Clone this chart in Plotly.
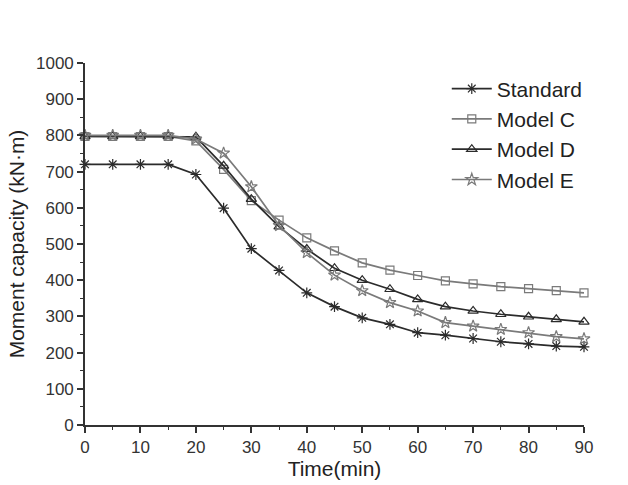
import plotly.graph_objects as go

time = [0, 5, 10, 15, 20, 25, 30, 35, 40, 45, 50, 55, 60, 65, 70, 75, 80, 85, 90]
standard = [720, 720, 720, 720, 692, 599, 487, 427, 365, 327, 296, 278, 255, 248, 239, 230, 224, 218, 216]
model_c = [797, 797, 797, 797, 785, 706, 620, 566, 517, 481, 448, 428, 413, 398, 390, 382, 377, 371, 365]
model_d = [797, 797, 797, 797, 796, 716, 624, 548, 486, 433, 400, 375, 347, 327, 315, 306, 299, 292, 285]
model_e = [800, 800, 800, 800, 790, 751, 658, 551, 476, 414, 371, 338, 315, 283, 273, 264, 255, 244, 238]

dark = "#2b2b2b"
gray = "#7a7a7a"

series = [
    ("Standard", standard, dark, "asterisk-open", 9),
    ("Model C", model_c, gray, "square-open", 8),
    ("Model D", model_d, dark, "triangle-up-open", 9),
    ("Model E", model_e, gray, "star-open", 9),
]

fig = go.Figure()
for name, vals, col, sym, sz in series:
    fig.add_trace(go.Scatter(
        x=time, y=vals, name=name, mode="lines+markers",
        line=dict(color=col, width=1.7),
        marker=dict(symbol=sym, size=sz, color=col, line=dict(color=col, width=1.2)),
        cliponaxis=False,
    ))

axis_common = dict(
    showline=True, linecolor="#333", linewidth=1.6,
    ticks="outside", tickcolor="#333", tickwidth=1.5, ticklen=6,
    showgrid=False, zeroline=False, mirror=False,
    tickfont=dict(family="Liberation Sans, Arial", size=17, color="#333"),
    title_font=dict(family="Liberation Sans, Arial", size=21, color="#222"),
)

fig.update_xaxes(range=[0, 90], dtick=10, tick0=0,
                 minor=dict(dtick=5, ticks="outside", ticklen=3, tickcolor="#333", tickwidth=1.2),
                 title_text="Time(min)", title_standoff=2, **axis_common)
fig.update_yaxes(range=[0, 1000], dtick=100, tick0=0,
                 minor=dict(dtick=50, ticks="outside", ticklen=3, tickcolor="#333", tickwidth=1.2),
                 title_text="Moment capacity (kN·m)", title_standoff=6, **axis_common)

fig.update_layout(
    width=628, height=485,
    margin=dict(l=85, r=44, t=63, b=60),
    paper_bgcolor="white", plot_bgcolor="white",
    showlegend=True,
    legend=dict(x=0.725, y=0.985, xanchor="left", yanchor="top",
                font=dict(family="Liberation Sans, Arial", size=21, color="#222"),
                bgcolor="rgba(0,0,0,0)", tracegroupgap=0, itemwidth=40),
)

fig.write_html("out.html")
